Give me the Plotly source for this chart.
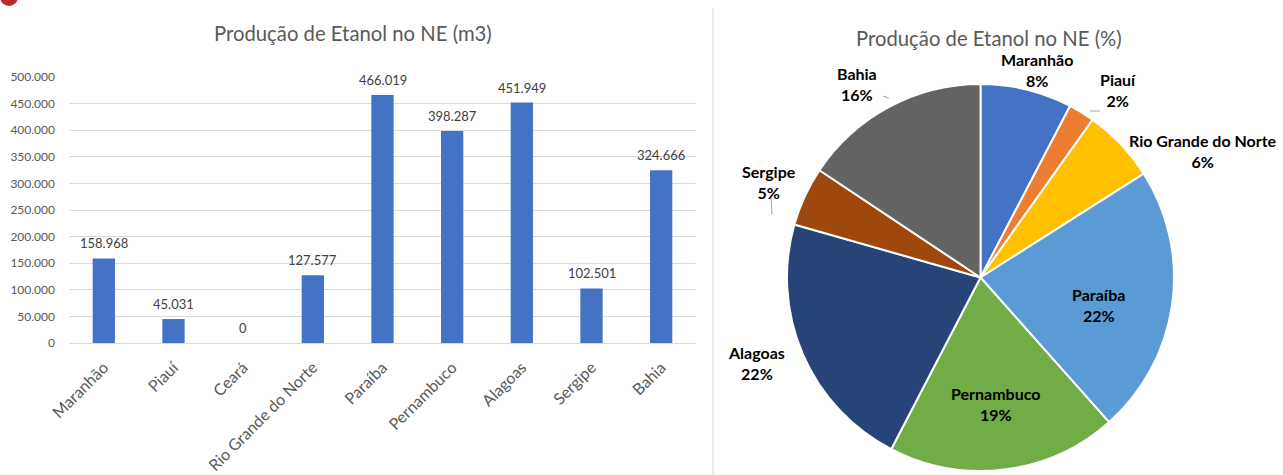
import plotly.graph_objects as go

W, H = 1283, 475

states = ["Maranhão", "Piauí", "Ceará", "Rio Grande do Norte", "Paraíba",
          "Pernambuco", "Alagoas", "Sergipe", "Bahia"]
production = [158968, 45031, 0, 127577, 466019, 398287, 451949, 102501, 324666]
y_ticks = [0, 50000, 100000, 150000, 200000, 250000, 300000, 350000, 400000, 450000, 500000]

pie_colors = {"Maranhão": "#4472C4", "Piauí": "#ED7D31", "Ceará": "#A5A5A5",
              "Rio Grande do Norte": "#FFC000", "Paraíba": "#5B9BD5",
              "Pernambuco": "#70AD47", "Alagoas": "#264478", "Sergipe": "#9E480E",
              "Bahia": "#636363"}

FONT = "Lato"
GRAY = "#595959"

def px(x):
    return x / W

def py(y):
    return 1 - y / H

def fmt(v):
    return f"{v:,}".replace(",", ".")

fig = go.Figure()

fig.add_trace(go.Bar(
    x=states, y=production,
    marker=dict(color="#4472C4", line=dict(width=0)),
    width=0.32, showlegend=False,
))

pie_labels = [s for s, v in zip(states, production) if v > 0]
pie_values = [v for v in production if v > 0]
total = sum(pie_values)

fig.add_trace(go.Pie(
    labels=pie_labels, values=pie_values, sort=False, direction="clockwise",
    rotation=0, textinfo="none", hoverinfo="label+percent",
    marker=dict(colors=[pie_colors[s] for s in pie_labels], line=dict(color="white", width=2)),
    domain=dict(x=[px(786), px(1175)], y=[py(471), py(84)]),
    showlegend=False,
))

annotations = []
# bar value labels
for s, v in zip(states, production):
    annotations.append(dict(
        x=s, y=v, xref="x", yref="y", showarrow=False, text=fmt(v),
        font=dict(family=FONT, size=13, color="#404040"),
        xanchor="center", yanchor="bottom", yshift=5,
    ))

# pie label positions (center of label block, in pixels)
label_pos = {
    "Maranhão": (1037, 70), "Piauí": (1118, 90), "Rio Grande do Norte": (1203, 151),
    "Paraíba": (1098, 305), "Pernambuco": (995, 404), "Alagoas": (756, 363),
    "Sergipe": (769, 182), "Bahia": (857, 84),
}
for s, v in zip(pie_labels, pie_values):
    x, y = label_pos[s]
    pct = round(100 * v / total)
    annotations.append(dict(
        x=px(x), y=py(y), xref="paper", yref="paper", showarrow=False,
        text=f"<b>{s}</b><br><b>{pct}%</b>",
        font=dict(family=FONT, size=16, color="black"),
        xanchor="center", yanchor="middle", align="center",
    ))

annotations.append(dict(x=px(353), y=py(33), xref="paper", yref="paper", showarrow=False,
                        text="Produção de Etanol no NE (m3)",
                        font=dict(family=FONT, size=20.3, color=GRAY),
                        xanchor="center", yanchor="middle"))
annotations.append(dict(x=px(989), y=py(38), xref="paper", yref="paper", showarrow=False,
                        text="Produção de Etanol no NE (%)",
                        font=dict(family=FONT, size=20.3, color=GRAY),
                        xanchor="center", yanchor="middle"))

shapes = [
    dict(type="line", xref="paper", yref="paper", x0=px(713), x1=px(713), y0=py(8), y1=0,
         line=dict(color="#D9D9D9", width=1)),
    dict(type="circle", xref="paper", yref="paper", x0=px(0), x1=px(18), y0=py(6), y1=py(-12),
         fillcolor="#C0272D", line=dict(width=0)),
    # leader lines
    dict(type="line", xref="paper", yref="paper", x0=px(883), x1=px(889), y0=py(96), y1=py(98),
         line=dict(color="#A6A6A6", width=1)),
    dict(type="line", xref="paper", yref="paper", x0=px(771), x1=px(772), y0=py(196), y1=py(214),
         line=dict(color="#A6A6A6", width=1)),
    dict(type="line", xref="paper", yref="paper", x0=px(1090), x1=px(1100), y0=py(111), y1=py(111),
         line=dict(color="#A6A6A6", width=1)),
]

fig.update_layout(
    width=W, height=H, margin=dict(l=0, r=0, t=0, b=0),
    paper_bgcolor="white", plot_bgcolor="white",
    separators=",.",
    font=dict(family=FONT, color=GRAY),
    annotations=annotations, shapes=shapes,
    xaxis=dict(domain=[px(69), px(696)], tickangle=-45, showgrid=False, automargin=False,
               tickfont=dict(size=16, color=GRAY, family=FONT), ticklabelstandoff=8,
               showline=True, linecolor="#D9D9D9", ticks="", fixedrange=True),
    yaxis=dict(domain=[py(343), py(77)], range=[0, 500000], tickvals=y_ticks, automargin=False,
               tickformat=",d", showgrid=True, gridcolor="#D9D9D9", zeroline=False,
               tickfont=dict(size=12, color=GRAY, family=FONT), ticklabelstandoff=13,
               fixedrange=True),
)

fig.write_html("out.html")
